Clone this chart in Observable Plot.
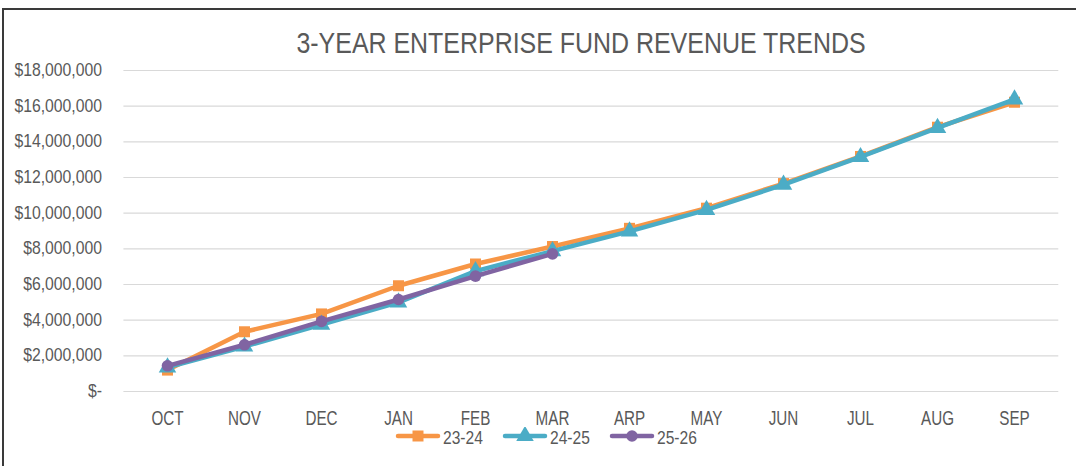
<!DOCTYPE html>
<html><head><meta charset="utf-8">
<script src="https://cdn.jsdelivr.net/npm/d3@7"></script>
<script src="https://cdn.jsdelivr.net/npm/@observablehq/plot@0.6"></script>
<style>
body{margin:0;background:#fff;width:1076px;height:466px;overflow:hidden;position:relative;font-family:"Liberation Sans",Arial,sans-serif;}
#frame{position:absolute;left:2px;top:8px;width:2000px;height:1000px;border-left:2px solid #3a3a3a;border-top:2px solid #3a3a3a;}
#title{position:absolute;left:0;top:26px;width:1162px;text-align:center;font-size:29px;line-height:34px;color:#595959;transform:scaleX(0.86);transform-origin:581px 0;white-space:nowrap;}
#chart{position:absolute;left:0;top:57px;}
#legend{position:absolute;left:0;top:429px;width:1076px;height:20px;font-size:19px;color:#595959;}
#legend .sw{position:absolute;top:-2px;}
#legend .lab{position:absolute;top:0;line-height:17px;transform:scaleX(0.82);transform-origin:0 0;white-space:nowrap;}
</style>
</head><body>
<div id="frame"></div>
<div id="title">3-YEAR ENTERPRISE FUND REVENUE TRENDS</div>
<div id="chart"></div>
<div id="legend"></div>
<script>
const months = ["OCT","NOV","DEC","JAN","FEB","MAR","ARP","MAY","JUN","JUL","AUG","SEP"];
const seriesNames = ["23-24","24-25","25-26"];
const fy2324 = [1200000,3350000,4350000,5930000,7150000,8130000,9150000,10280000,11660000,13180000,14820000,16220000];
const fy2425 = [1350000,2520000,3750000,5000000,6750000,7870000,8980000,10180000,11600000,13150000,14780000,16380000];
const fy2526 = [1440000,2620000,3930000,5160000,6470000,7720000];
const yTicks = [0,2000000,4000000,6000000,8000000,10000000,12000000,14000000,16000000,18000000];
const colors = ["#F79646","#4BACC6","#8064A2"];
const symbols = ["square","triangle","circle"];
const radii = [6.2,6.5,5.8];
const legendX = [395, 502, 609];

const allSeries = [fy2324, fy2425, fy2526];
const rows = [];
allSeries.forEach((vals, s) => vals.forEach((v, i) => rows.push({series: seriesNames[s], month: months[i], value: v})));

const fmt = d => d === 0 ? "$-" : "$" + d3.format(",")(d);

const marks = [
  Plot.gridY(yTicks, {stroke: "#d9d9d9", strokeOpacity: 1, strokeWidth: 1.2}),
  Plot.axisY(yTicks, {tickSize: 0, tickPadding: 22, tickFormat: fmt, fontSize: 17.5, fill: "#595959", label: null}),
  Plot.axisX({tickSize: 0, tickPadding: 19.5, fontSize: 19.5, fill: "#595959", label: null})
];
seriesNames.forEach((name, s) => {
  const data = rows.filter(r => r.series === name);
  marks.push(Plot.line(data, {x: "month", y: "value", stroke: colors[s], strokeWidth: 4.5, strokeLinejoin: "round", strokeLinecap: "round"}));
  marks.push(Plot.dot(data, {x: "month", y: "value", fill: colors[s], stroke: "none", symbol: symbols[s], r: radii[s]}));
});

const chart = Plot.plot({
  width: 1076, height: 368,
  marginLeft: 123.4, marginRight: 17.7, marginTop: 13, marginBottom: 34,
  style: {fontFamily: '"Liberation Sans",Arial,sans-serif', color: "#595959", background: "transparent", overflow: "visible"},
  x: {type: "point", domain: months, padding: 0.5},
  y: {domain: [0, 18000000]},
  marks
});
document.getElementById("chart").appendChild(chart);

// condense axis labels (Arial Narrow look)
function condense(sel, k) {
  sel.each(function() {
    const t = this.getAttribute("transform");
    if (t) {
      this.setAttribute("transform", t + ` scale(${k},1)`);
    } else {
      const x = +this.getAttribute("x") || 0, y = +this.getAttribute("y") || 0;
      this.removeAttribute("x"); this.removeAttribute("y");
      this.setAttribute("transform", `translate(${x},${y}) scale(${k},1)`);
    }
  });
}
condense(d3.select(chart).selectAll('g[aria-label="y-axis tick label"] text'), 0.9);
condense(d3.select(chart).selectAll('g[aria-label="x-axis tick label"] text'), 0.78);

const legend = d3.select("#legend");
seriesNames.forEach((name, s) => {
  const svg = legend.append("svg").attr("class", "sw").style("left", legendX[s] + "px").attr("width", 46).attr("height", 18);
  svg.append("line").attr("x1", 3).attr("x2", 43).attr("y1", 9).attr("y2", 9)
    .attr("stroke", colors[s]).attr("stroke-width", 4.5).attr("stroke-linecap", "round");
  const sym = {square: d3.symbolSquare, triangle: d3.symbolTriangle, circle: d3.symbolCircle}[symbols[s]];
  svg.append("path").attr("transform", "translate(23,9)")
    .attr("d", d3.symbol(sym, Math.PI * radii[s] * radii[s])())
    .attr("fill", colors[s]);
  legend.append("span").attr("class", "lab").style("left", (legendX[s] + 48) + "px").text(name);
});
</script>
</body></html>
